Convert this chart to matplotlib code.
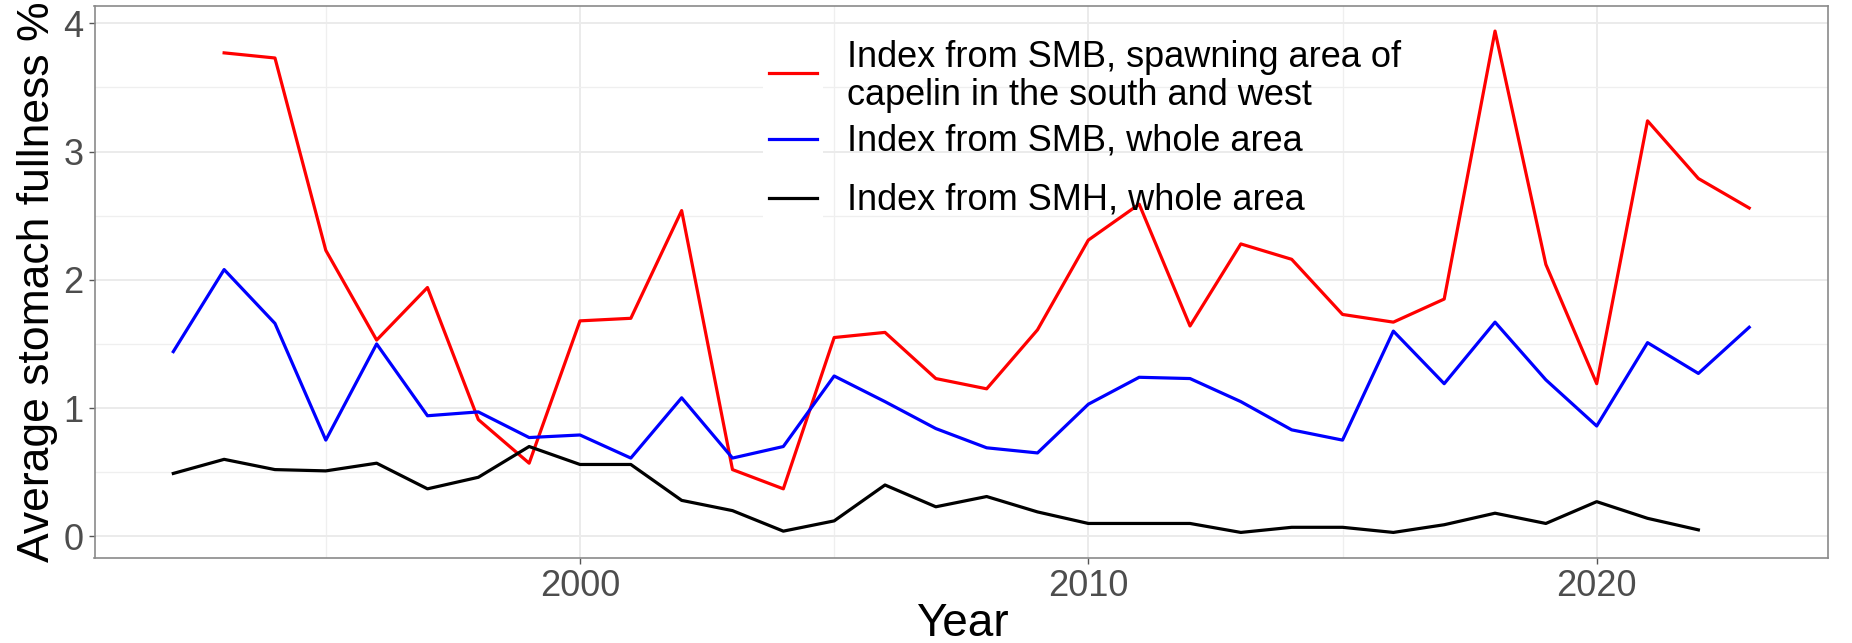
import matplotlib
matplotlib.use("Agg")
import matplotlib.pyplot as plt
from matplotlib.lines import Line2D
from matplotlib.patches import Rectangle
from matplotlib.ticker import MultipleLocator

plt.rcParams['font.family'] = ['Liberation Sans', 'DejaVu Sans']

years_red = list(range(1993, 2024))
red = [3.77, 3.73, 2.23, 1.53, 1.94, 0.91, 0.57, 1.68, 1.70, 2.54, 0.52, 0.37,
       1.55, 1.59, 1.23, 1.15, 1.61, 2.31, 2.59, 1.64, 2.28, 2.16, 1.73, 1.67,
       1.85, 3.94, 2.12, 1.19, 3.24, 2.79, 2.56]

years_blue = list(range(1992, 2024))
blue = [1.44, 2.08, 1.66, 0.75, 1.50, 0.94, 0.97, 0.77, 0.79, 0.61, 1.08, 0.61,
        0.70, 1.25, 1.05, 0.84, 0.69, 0.65, 1.03, 1.24, 1.23, 1.05, 0.83, 0.75,
        1.60, 1.19, 1.67, 1.22, 0.86, 1.51, 1.27, 1.63]

years_black = list(range(1992, 2023))
black = [0.49, 0.60, 0.52, 0.51, 0.57, 0.37, 0.46, 0.70, 0.56, 0.56, 0.28, 0.20,
         0.04, 0.12, 0.40, 0.23, 0.31, 0.19, 0.10, 0.10, 0.10, 0.03, 0.07, 0.07,
         0.03, 0.09, 0.18, 0.10, 0.27, 0.14, 0.05]

labels = ["Index from SMB, spawning area of\ncapelin in the south and west",
          "Index from SMB, whole area",
          "Index from SMH, whole area"]
colors = ["#FF0000", "#0000FF", "#000000"]

W, H = 1852, 643
fig = plt.figure(figsize=(W / 100, H / 100), dpi=100)
ax = fig.add_axes([94.5 / W, 1 - 557.5 / H, (1828 - 94.5) / W, (557.5 - 6) / H])

series = [(years_red, red), (years_blue, blue), (years_black, black)]
for (xs, ys), c, lab in zip(series, colors, labels):
    ax.plot(xs, ys, color=c, lw=2.3, label=lab, zorder=3, solid_joinstyle='round')

allx = years_red + years_blue + years_black
ally = red + blue + black
xr = max(allx) - min(allx)
yr = max(ally) - min(ally)
ax.set_xlim(min(allx) - 0.05 * xr, max(allx) + 0.05 * xr)
ax.set_ylim(min(ally) - 0.05 * yr, max(ally) + 0.05 * yr)

ax.xaxis.set_major_locator(MultipleLocator(10))
ax.xaxis.set_minor_locator(MultipleLocator(5))
ax.yaxis.set_major_locator(MultipleLocator(1))
ax.yaxis.set_minor_locator(MultipleLocator(0.5))

ax.grid(which='major', color='#EBEBEB', lw=1.4, zorder=0)
ax.grid(which='minor', color='#EFEFEF', lw=0.9, zorder=0)
ax.set_axisbelow(True)

for s in ax.spines.values():
    s.set_color('#8a8a8a')
    s.set_linewidth(1.2)

ax.tick_params(which='major', length=4, width=1.0, color='#555555',
               labelsize=26, labelcolor='#4D4D4D', pad=4)
ax.tick_params(which='minor', length=0)

ax.set_ylabel("Average stomach fullness %", fontsize=32, labelpad=4)
fig.text((94.5 + 1830) / 2 / W, 1 - 636 / H, "Year", fontsize=33,
         ha='center', va='baseline')

# legend drawn in ggplot style: white key column, transparent background
def fx(px):
    return px / W

def fy(py):
    return 1 - py / H

fig.patches.append(Rectangle((fx(763), fy(226)), fx(823) - fx(763), fy(40) - fy(226),
                             transform=fig.transFigure, facecolor='white',
                             edgecolor='none', zorder=4))
key_y = [72.7, 139, 197.7]
first_base = [66.7, 150.5, 210]
pitch = 38.3
for c, lab, ky, tb in zip(colors, labels, key_y, first_base):
    fig.lines.append(Line2D([fx(769), fx(817)], [fy(ky), fy(ky)], color=c, lw=2.3,
                            transform=fig.transFigure, zorder=5))
    for i, line in enumerate(lab.split("\n")):
        fig.text(fx(847), fy(tb + i * pitch), line, fontsize=26, ha='left',
                 va='baseline', zorder=5)

fig.savefig("out.png", dpi=100)
